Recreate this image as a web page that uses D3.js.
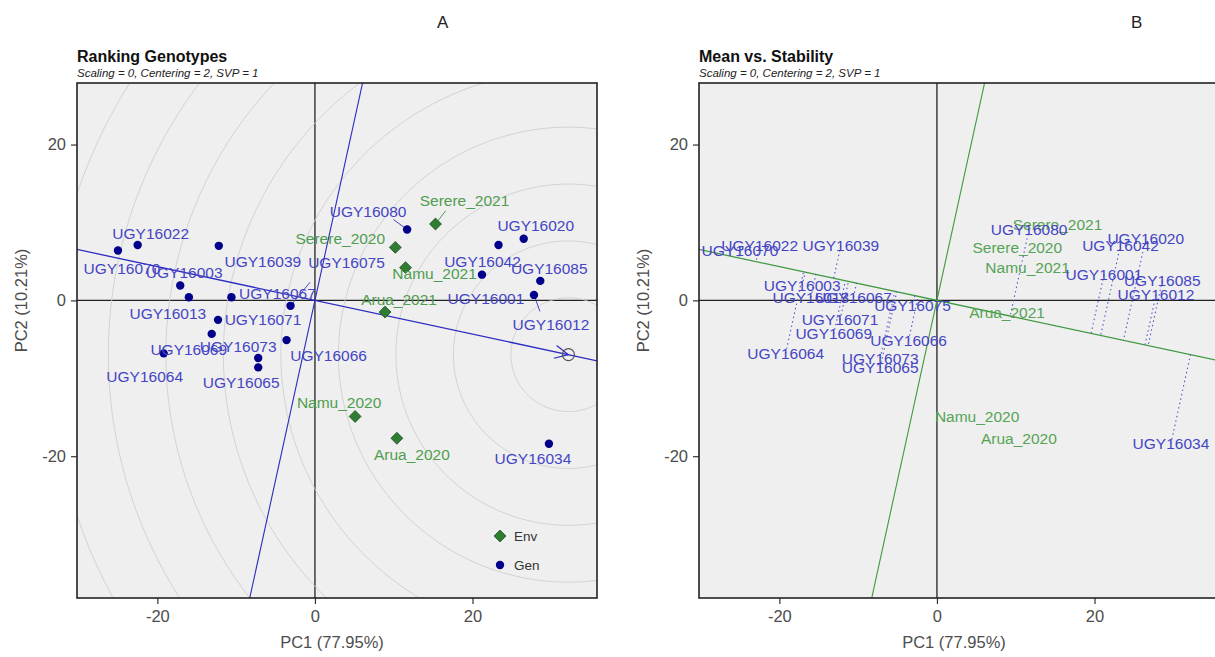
<!DOCTYPE html>
<html>
<head>
<meta charset="utf-8">
<script src="https://cdn.jsdelivr.net/npm/d3@7"></script>
<style>
  body { margin: 0; background: #fff; }
  text { font-family: "Liberation Sans", Arial, sans-serif; }
</style>
</head>
<body>
<svg id="chart" width="1215" height="657"></svg>
<script>
// Genotype scores (PC1, PC2)
const genotypes = ["UGY16070", "UGY16022", "UGY16039", "UGY16003", "UGY16013", "UGY16067", "UGY16075",
    "UGY16071", "UGY16069", "UGY16066", "UGY16064", "UGY16073", "UGY16065", "UGY16080",
    "UGY16020", "UGY16042", "UGY16001", "UGY16085", "UGY16012", "UGY16034"];
const genPC1 = [-25.0, -22.5, -12.2, -17.1, -16.0, -10.6, -3.1, -12.3, -13.1, -3.6, -19.2, -7.2, -7.2, 11.7,
    26.5, 23.3, 21.2, 28.6, 27.8, 29.7];
const genPC2 = [6.4, 7.1, 7.0, 1.9, 0.4, 0.4, -0.7, -2.5, -4.3, -5.1, -6.8, -7.4, -8.6, 9.1,
    7.9, 7.1, 3.3, 2.5, 0.7, -18.4];

// Environment scores (PC1, PC2)
const environments = ["Serere_2021", "Serere_2020", "Namu_2021", "Arua_2021", "Namu_2020", "Arua_2020"];
const envPC1 = [15.3, 10.2, 11.5, 8.9, 5.1, 10.4];
const envPC2 = [9.8, 6.8, 4.2, -1.5, -14.9, -17.7];

const xTicks = [-20, 0, 20];
const yTicks = [-20, 0, 20];
const xTitle = "PC1 (77.95%)";
const yTitle = "PC2 (10.21%)";
const subtitle = "Scaling = 0, Centering = 2, SVP = 1";

// label placement for panel A (pixel nudges from the point, like ggrepel did)
const nudgeA = {
    UGY16070: [4, 18], UGY16022: [13, -12], UGY16039: [44, 16], UGY16003: [4, -13], UGY16013: [-21, 16],
    UGY16067: [46, -4], UGY16075: [56, -43], UGY16071: [45, 0], UGY16069: [-23, 16], UGY16066: [42, 15],
    UGY16064: [-19, 23], UGY16073: [-20, -12], UGY16065: [-17, 15], UGY16080: [-39, -18], UGY16020: [12, -13],
    UGY16042: [-16, 16], UGY16001: [4, 24], UGY16085: [9, -12], UGY16012: [17, 30], UGY16034: [-16, 15],
    Serere_2021: [29, -24], Serere_2020: [-55, -9], Namu_2021: [29, 6], Arua_2021: [14, -13],
    Namu_2020: [-16, -14], Arua_2020: [15, 16]
};
const withLeader = ["UGY16075", "UGY16080", "UGY16012", "Serere_2021"];

const xDomain = [-30.2, 35.8], yDomain = [-38.2, 27.9];
const panelW = 520, panelH = 515, panelTop = 83;

const genColor = "#00008b", genLabel = "#4545c4";
const envFill = "#2e7d32", envLabel = "#4f9d4f";

const svg = d3.select("#chart");
svg.append("rect").attr("width", 1215).attr("height", 657).attr("fill", "#fff");

const gen = genotypes.map((name, i) => ({ name, pc1: genPC1[i], pc2: genPC2[i] }));
const env = environments.map((name, i) => ({ name, pc1: envPC1[i], pc2: envPC2[i] }));

// average environment axis
const mx = d3.mean(envPC1), my = d3.mean(envPC2);
const len = Math.hypot(mx, my);
const ux = mx / len, uy = my / len;
const maxProj = d3.max(gen, d => d.pc1 * ux + d.pc2 * uy);
const ideal = [maxProj * ux, maxProj * uy];

function panel(left, id, title, letter, letterX) {
    const x = d3.scaleLinear().domain(xDomain).range([0, panelW]);
    const y = d3.scaleLinear().domain(yDomain).range([panelH, 0]);
    const g = svg.append("g").attr("transform", `translate(${left},${panelTop})`);

    svg.append("text").attr("x", letterX).attr("y", 28).attr("font-size", 17).attr("fill", "#222")
        .text(letter);
    svg.append("text").attr("x", left).attr("y", 62).attr("font-size", 16).attr("font-weight", "bold")
        .attr("fill", "#111").text(title);
    svg.append("text").attr("x", left).attr("y", 77).attr("font-size", 11.5).attr("font-style", "italic")
        .attr("fill", "#222").text(subtitle);

    svg.append("clipPath").attr("id", id).append("rect").attr("width", panelW).attr("height", panelH);

    g.append("rect").attr("width", panelW).attr("height", panelH).attr("fill", "#efefef");

    const inner = g.append("g").attr("clip-path", `url(#${id})`);

    // axis lines through origin
    inner.append("line").attr("x1", x(0)).attr("x2", x(0)).attr("y1", 0).attr("y2", panelH)
        .attr("stroke", "#222").attr("stroke-width", 1.3);
    inner.append("line").attr("x1", 0).attr("x2", panelW).attr("y1", y(0)).attr("y2", y(0))
        .attr("stroke", "#222").attr("stroke-width", 1.3);

    // ticks and labels (plain hyphen minus, as in the original)
    const fmt = d => String(d);
    const xa = g.append("g").attr("transform", `translate(0,${panelH})`)
        .call(d3.axisBottom(x).tickValues(xTicks).tickFormat(fmt).tickSize(6).tickSizeOuter(0).tickPadding(6));
    const ya = g.append("g")
        .call(d3.axisLeft(y).tickValues(yTicks).tickFormat(fmt).tickSize(6).tickSizeOuter(0).tickPadding(5));
    [xa, ya].forEach(a => {
        a.select(".domain").remove();
        a.selectAll("line").attr("stroke", "#333").attr("stroke-width", 1.2);
        a.selectAll("text").attr("font-size", 16.5).attr("fill", "#4d4d4d")
            .attr("font-family", "Liberation Sans, Arial, sans-serif");
    });

    g.append("text").attr("x", panelW / 2 - 5).attr("y", panelH + 50).attr("text-anchor", "middle")
        .attr("font-size", 16.5).attr("fill", "#4d4d4d").text(xTitle);
    g.append("text").attr("transform", `translate(${-50},${panelH / 2 - 40}) rotate(-90)`)
        .attr("text-anchor", "middle").attr("font-size", 16.5).attr("fill", "#4d4d4d").text(yTitle);

    return { g, inner, x, y };
}

// ---------- Panel A: Ranking Genotypes ----------
const A = panel(77, "clipA", "Ranking Genotypes", "A", 437);

// concentric rings round the ideal genotype
const ringStep = 7.3;
const angles = d3.range(0, 2 * Math.PI + 0.01, Math.PI / 90);
const ring = d3.line().x(d => A.x(d[0])).y(d => A.y(d[1]));
d3.range(1, 14).forEach(k => {
    const r = k * ringStep;
    A.inner.append("path")
        .attr("d", ring(angles.map(t => [ideal[0] + r * Math.cos(t), ideal[1] + r * Math.sin(t)])))
        .attr("fill", "none").attr("stroke", "#cfcfcf").attr("stroke-width", 0.9);
});

// average environment axis and its perpendicular
const far = 80;
A.inner.append("line")
    .attr("x1", A.x(-far * ux)).attr("y1", A.y(-far * uy))
    .attr("x2", A.x(far * ux)).attr("y2", A.y(far * uy))
    .attr("stroke", "#2b2bc0").attr("stroke-width", 1.3);
A.inner.append("line")
    .attr("x1", A.x(-far * uy)).attr("y1", A.y(far * ux))
    .attr("x2", A.x(far * uy)).attr("y2", A.y(-far * ux))
    .attr("stroke", "#2b2bc0").attr("stroke-width", 1.1);

// arrow head pointing at the ideal genotype
const ix = A.x(ideal[0]), iy = A.y(ideal[1]);
const dirA = Math.atan2(A.y(-uy) - A.y(0), A.x(-ux) - A.x(0));
[-0.45, 0.45].forEach(da => {
    A.inner.append("line").attr("x1", ix).attr("y1", iy)
        .attr("x2", ix + 15 * Math.cos(dirA + da)).attr("y2", iy + 15 * Math.sin(dirA + da))
        .attr("stroke", "#2b2bc0").attr("stroke-width", 1.2);
});
A.inner.append("circle").attr("cx", ix).attr("cy", iy).attr("r", 6)
    .attr("fill", "none").attr("stroke", "#555").attr("stroke-width", 1.2);

// leader segments
const allA = gen.map(d => ({ ...d, type: "gen" })).concat(env.map(d => ({ ...d, type: "env" })));
allA.filter(d => withLeader.includes(d.name)).forEach(d => {
    const px = A.x(d.pc1), py = A.y(d.pc2);
    const [dx, dy] = nudgeA[d.name];
    A.inner.append("line")
        .attr("x1", px + dx * 0.35).attr("y1", py + dy * 0.55)
        .attr("x2", px).attr("y2", py)
        .attr("stroke", d.type === "gen" ? genLabel : envLabel).attr("stroke-width", 1);
});

// points
A.inner.selectAll(".gen").data(gen).enter().append("circle")
    .attr("cx", d => A.x(d.pc1)).attr("cy", d => A.y(d.pc2)).attr("r", 4.2)
    .attr("fill", genColor);
const diamond = d3.symbol().type(d3.symbolDiamond2).size(90);
A.inner.selectAll(".env").data(env).enter().append("path")
    .attr("d", diamond).attr("transform", d => `translate(${A.x(d.pc1)},${A.y(d.pc2)})`)
    .attr("fill", envFill).attr("stroke", "#1d4d1f").attr("stroke-width", 0.8);

// labels
A.inner.selectAll(".lab").data(allA).enter().append("text")
    .attr("x", d => A.x(d.pc1) + nudgeA[d.name][0])
    .attr("y", d => A.y(d.pc2) + nudgeA[d.name][1] + 5.5)
    .attr("text-anchor", "middle").attr("font-size", 15.5)
    .attr("fill", d => d.type === "gen" ? genLabel : envLabel)
    .text(d => d.name);

// legend
const leg = A.g.append("g").attr("transform", `translate(${423},${453})`);
leg.append("path").attr("d", diamond).attr("fill", envFill).attr("stroke", "#1d4d1f").attr("stroke-width", 0.8);
leg.append("text").attr("x", 14).attr("y", 5).attr("font-size", 13.5).attr("fill", "#333").text("Env");
leg.append("circle").attr("cy", 29).attr("r", 4.2).attr("fill", genColor);
leg.append("text").attr("x", 14).attr("y", 34).attr("font-size", 13.5).attr("fill", "#333").text("Gen");

A.g.append("rect").attr("width", panelW).attr("height", panelH)
    .attr("fill", "none").attr("stroke", "#222").attr("stroke-width", 1.6);

// ---------- Panel B: Mean vs. Stability ----------
const B = panel(699, "clipB", "Mean vs. Stability", "B", 1131);
const green = "#3f9a3f";

B.inner.append("line")
    .attr("x1", B.x(-far * ux)).attr("y1", B.y(-far * uy))
    .attr("x2", B.x(far * ux)).attr("y2", B.y(far * uy))
    .attr("stroke", green).attr("stroke-width", 1.3);
B.inner.append("line")
    .attr("x1", B.x(-far * uy)).attr("y1", B.y(far * ux))
    .attr("x2", B.x(far * uy)).attr("y2", B.y(-far * ux))
    .attr("stroke", green).attr("stroke-width", 1.1);

// projections of the genotypes onto the average environment axis
B.inner.selectAll(".proj").data(gen).enter().append("line")
    .attr("x1", d => B.x(d.pc1)).attr("y1", d => B.y(d.pc2))
    .attr("x2", d => B.x((d.pc1 * ux + d.pc2 * uy) * ux))
    .attr("y2", d => B.y((d.pc1 * ux + d.pc2 * uy) * uy))
    .attr("stroke", "#5555cc").attr("stroke-width", 1.1).attr("stroke-dasharray", "1.5,3");

B.inner.selectAll(".envlab").data(env).enter().append("text")
    .attr("x", d => B.x(d.pc1)).attr("y", d => B.y(d.pc2) + 5.5)
    .attr("text-anchor", "middle").attr("font-size", 15.5).attr("fill", "#56a356")
    .text(d => d.name);
B.inner.selectAll(".genlab").data(gen).enter().append("text")
    .attr("x", d => B.x(d.pc1)).attr("y", d => B.y(d.pc2) + 5.5)
    .attr("text-anchor", "middle").attr("font-size", 15.5).attr("fill", genLabel)
    .text(d => d.name);

B.g.append("rect").attr("width", panelW).attr("height", panelH)
    .attr("fill", "none").attr("stroke", "#222").attr("stroke-width", 1.6);
</script>
</body>
</html>
